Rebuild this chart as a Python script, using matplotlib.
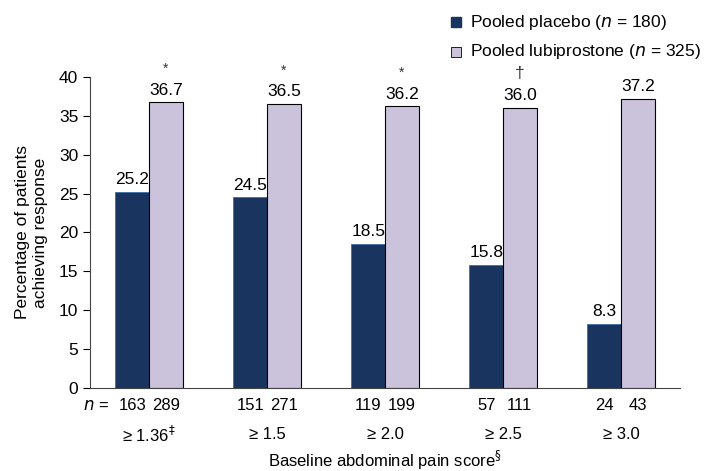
import matplotlib
matplotlib.use("Agg")
import matplotlib.pyplot as plt
import numpy as np

categories = ["\u2265 1.36$^{\u2021}$", "\u2265 1.5", "\u2265 2.0", "\u2265 2.5", "\u2265 3.0"]
placebo = [25.2, 24.5, 18.5, 15.8, 8.3]
lubiprostone = [36.7, 36.5, 36.2, 36.0, 37.2]
n_placebo = [163, 151, 119, 57, 24]
n_lubi = [289, 271, 199, 111, 43]
signif = ["*", "*", "*", "\u2020", ""]

plt.rcParams['font.family'] = ['Liberation Sans', 'DejaVu Sans']

fig = plt.figure(figsize=(7.09, 4.71), dpi=100)
ax = fig.add_axes([0.127, 0.176, 0.832, 0.661])

x = np.arange(len(categories))
w = 0.285
navy = "#19355f"
lilac = "#cbc3dc"

ax.bar(x - w / 2, placebo, w, color=navy, edgecolor="#3c6fa8", linewidth=0.6)
ax.bar(x + w / 2, lubiprostone, w, color=lilac, edgecolor="black", linewidth=0.8)

for i in range(len(x)):
    ax.text(x[i] - w / 2, placebo[i] + 0.6, f"{placebo[i]:.1f}", ha="center", va="bottom", fontsize=12.5)
    ax.text(x[i] + w / 2, lubiprostone[i] + 0.6, f"{lubiprostone[i]:.1f}", ha="center", va="bottom", fontsize=12.5)
    if signif[i]:
        ax.text(x[i] + w / 2, lubiprostone[i] + 3.4, signif[i], ha="center", va="bottom",
                fontsize=12.5 if signif[i] == "\u2020" else 10, color="#333333", clip_on=False)
    ax.text(x[i] - w / 2, -2.2, str(n_placebo[i]), ha="center", va="center", fontsize=12)
    ax.text(x[i] + w / 2, -2.2, str(n_lubi[i]), ha="center", va="center", fontsize=12)
    ax.text(x[i], -6.0, categories[i], ha="center", va="center", fontsize=12)

ax.text(x[0] - w / 2 - 0.2, -2.2, "$\\it{n}$ =", ha="right", va="center", fontsize=12)
ax.text(2, -9.3, "Baseline abdominal pain score$^{\\S}$", ha="center", va="center", fontsize=12)

ax.set_xlim(-0.5, 4.5)
ax.set_ylim(0, 40)
ax.set_yticks(range(0, 41, 5))
ax.set_xticks([])
ax.tick_params(axis="y", labelsize=12.5, length=5, width=0.8, direction="out")
ax.spines["top"].set_visible(False)
ax.spines["right"].set_visible(False)
ax.spines["left"].set_color("#444444")
ax.spines["bottom"].set_color("#444444")
ax.set_ylabel("Percentage of patients\nachieving response", fontsize=12.5, labelpad=8)

# legend
fig.patches.append(plt.Rectangle((0.636, 0.943), 0.014, 0.021, transform=fig.transFigure,
                                 facecolor=navy, edgecolor=navy))
fig.patches.append(plt.Rectangle((0.636, 0.880), 0.014, 0.021, transform=fig.transFigure,
                                 facecolor=lilac, edgecolor="black", linewidth=0.6))
fig.text(0.663, 0.953, "Pooled placebo ($\\it{n}$ = 180)", va="center", fontsize=12.5)
fig.text(0.663, 0.890, "Pooled lubiprostone ($\\it{n}$ = 325)", va="center", fontsize=12.5)

fig.savefig("out.png", dpi=100)
